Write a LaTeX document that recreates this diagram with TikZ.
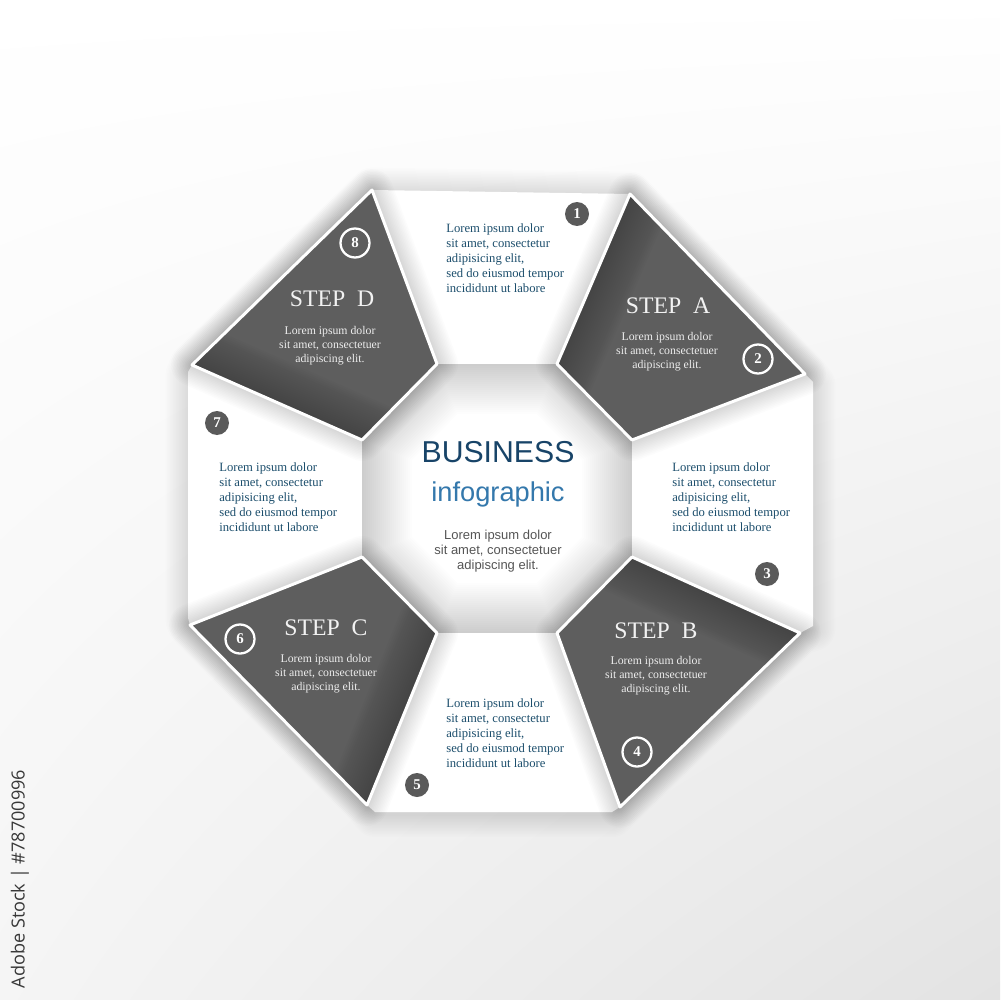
\documentclass[tikz,border=0pt]{standalone}
\usepackage{fontspec}
\setmainfont{Liberation Serif}
\newfontfamily\arialf{Liberation Sans}
\newfontfamily\opensf{Open Sans}
\usetikzlibrary{shadings}
\definecolor{flapc}{HTML}{5E5E5E}
\definecolor{bluet}{RGB}{28,78,108}
\definecolor{bizc}{RGB}{24,68,104}
\definecolor{infoc}{RGB}{52,120,172}
\definecolor{grayt}{HTML}{555555}
\definecolor{numc}{HTML}{5A5A5A}
\begin{document}
\begin{tikzpicture}[x=0.02cm,y=-0.02cm,
  numf/.style={circle, fill=numc, minimum size=0.48cm, inner sep=0pt, text=white, font=\bfseries\fontsize{8.5}{9}\selectfont},
  numo/.style={circle, draw=white, line width=1.3pt, minimum size=0.58cm, inner sep=0pt, text=white, font=\bfseries\fontsize{8.5}{9}\selectfont},
  bluetxt/.style={align=left, inner sep=0pt, text=bluet, font=\fontsize{7.2}{8.5}\selectfont, anchor=west},
  steptitle/.style={inner sep=0pt, text=black!5, font=\fontsize{13.5}{14}\selectfont},
  flaptxt/.style={align=center, inner sep=0pt, text=black!7, font=\fontsize{6.7}{8}\selectfont},
  soft/.style={line join=round, draw=black, draw opacity=#1},
]
\useasboundingbox (0,0) rectangle (1000,1000);
\shade[upper left=white, upper right=white, lower left=black!4, lower right=black!11] (0,0) rectangle (1000,1000);

% key points
\coordinate (O1) at (437,364); \coordinate (O2) at (557,364); \coordinate (O3) at (632,440); \coordinate (O4) at (632,557);
\coordinate (O5) at (557,633); \coordinate (O6) at (437,633); \coordinate (O7) at (362,557); \coordinate (O8) at (362,440);
\coordinate (Dt) at (372,190); \coordinate (Dl) at (192,365);
\coordinate (At) at (630,194); \coordinate (Ar) at (805,374);
\coordinate (Br) at (800,633); \coordinate (Bb) at (620,807);
\coordinate (Cb) at (367,805); \coordinate (Cl) at (190,625);

% outer white panels with soft shadow
\def\outer{(Dt) -- (At) -- (Ar) -- (813,382) -- (813,626) -- (Br) -- (Bb) -- (612,812)
  -- (375,812) -- (Cb) -- (Cl) -- (188,618) -- (188,372) -- (Dl) -- cycle}
\foreach \w in {3,6,...,45} { \draw[soft=0.008, line width=\w*0.567pt, yshift=-1.5pt] \outer; }
\fill[white] \outer;

% central octagon with edge shading
\def\octa{(O1) -- (O2) -- (O3) -- (O4) -- (O5) -- (O6) -- (O7) -- (O8) -- cycle}
\fill[white] \octa;
\begin{scope}
  \clip \octa;
  \foreach \w in {4,8,...,100} { \draw[soft=0.009, line width=\w*0.567pt] \octa; }
\end{scope}

% flap shadows
\def\flapD{(Dt) -- (O1) -- (O8) -- (Dl) -- cycle}
\def\flapA{(At) -- (Ar) -- (O3) -- (O2) -- cycle}
\def\flapB{(O4) -- (Br) -- (Bb) -- (O5) -- cycle}
\def\flapC{(O7) -- (O6) -- (Cb) -- (Cl) -- cycle}
\foreach \w in {3,6,...,42} {
  \draw[soft=0.013, line width=\w*0.567pt] \flapD;
  \draw[soft=0.013, line width=\w*0.567pt] \flapA;
  \draw[soft=0.013, line width=\w*0.567pt] \flapB;
  \draw[soft=0.013, line width=\w*0.567pt] \flapC;
}

% flaps with curled (darker) edge
\fill[flapc] \flapD; \fill[flapc] \flapA; \fill[flapc] \flapB; \fill[flapc] \flapC;
\begin{scope}\clip \flapD;
  \foreach \w in {4,8,...,84} { \draw[soft=0.012, line width=\w*0.567pt] (107,327.5) -- (447,477.5); }
\end{scope}
\begin{scope}\clip \flapA;
  \foreach \w in {4,8,...,84} { \draw[soft=0.012, line width=\w*0.567pt] (666.5,109.5) -- (520.5,448.5); }
\end{scope}
\begin{scope}\clip \flapB;
  \foreach \w in {4,8,...,84} { \draw[soft=0.012, line width=\w*0.567pt] (548,519) -- (884,671); }
\end{scope}
\begin{scope}\clip \flapC;
  \foreach \w in {4,8,...,84} { \draw[soft=0.012, line width=\w*0.567pt] (472,547) -- (332,891); }
\end{scope}
\draw[white, line width=1.7pt, line join=round] \flapD;
\draw[white, line width=1.7pt, line join=round] \flapA;
\draw[white, line width=1.7pt, line join=round] \flapB;
\draw[white, line width=1.7pt, line join=round] \flapC;

% step titles and texts
\node[steptitle] (sd) at (332,299) {STEP\ \ D};
\node[flaptxt] (sdt) at (330,346) {Lorem ipsum dolor\\sit amet, consectetuer\\adipiscing elit.};
\node[steptitle] (sa) at (668,306) {STEP\ \ A};
\node[flaptxt] (sat) at (667,352) {Lorem ipsum dolor\\sit amet, consectetuer\\adipiscing elit.};
\node[steptitle] (sb) at (656,631) {STEP\ \ B};
\node[flaptxt] (sbt) at (656,676) {Lorem ipsum dolor\\sit amet, consectetuer\\adipiscing elit.};
\node[steptitle] (sc) at (326,628) {STEP\ \ C};
\node[flaptxt] (sct) at (326,674) {Lorem ipsum dolor\\sit amet, consectetuer\\adipiscing elit.};

% panel texts
\node[bluetxt] (pt) at (446,258) {Lorem ipsum dolor\\sit amet, consectetur\\adipisicing elit,\\sed do eiusmod tempor\\incididunt ut labore};
\node[bluetxt] (pr) at (672,497) {Lorem ipsum dolor\\sit amet, consectetur\\adipisicing elit,\\sed do eiusmod tempor\\incididunt ut labore};
\node[bluetxt] (pb) at (446,733) {Lorem ipsum dolor\\sit amet, consectetur\\adipisicing elit,\\sed do eiusmod tempor\\incididunt ut labore};
\node[bluetxt] (pl) at (219,497) {Lorem ipsum dolor\\sit amet, consectetur\\adipisicing elit,\\sed do eiusmod tempor\\incididunt ut labore};

% center
\node[inner sep=0pt, text=bizc, font=\arialf\fontsize{17.2}{18}\selectfont] (biz) at (498,452) {BUSINESS};
\node[inner sep=0pt, text=infoc, font=\arialf\fontsize{15.5}{16}\selectfont] (info) at (498,494) {infographic};
\node[inner sep=0pt, align=center, text=grayt, font=\arialf\fontsize{7.4}{8.5}\selectfont] (ctr) at (498,551) {Lorem ipsum dolor\\sit amet, consectetuer\\adipiscing elit.};

% numbers
\node[numf] (n1) at (577,214) {1};
\node[numo] (n2) at (758,359) {2};
\node[numf] (n3) at (767,574) {3};
\node[numo] (n4) at (637,752) {4};
\node[numf] (n5) at (417,785) {5};
\node[numo] (n6) at (240,639) {6};
\node[numf] (n7) at (217,423) {7};
\node[numo] (n8) at (355,243) {8};

% side label
\node[rotate=90, inner sep=0pt, text=black!78, font=\opensf\fontsize{10.3}{11}\selectfont] (wm) at (20,879) {Adobe Stock | \#78700996};
\end{tikzpicture}
\end{document}
